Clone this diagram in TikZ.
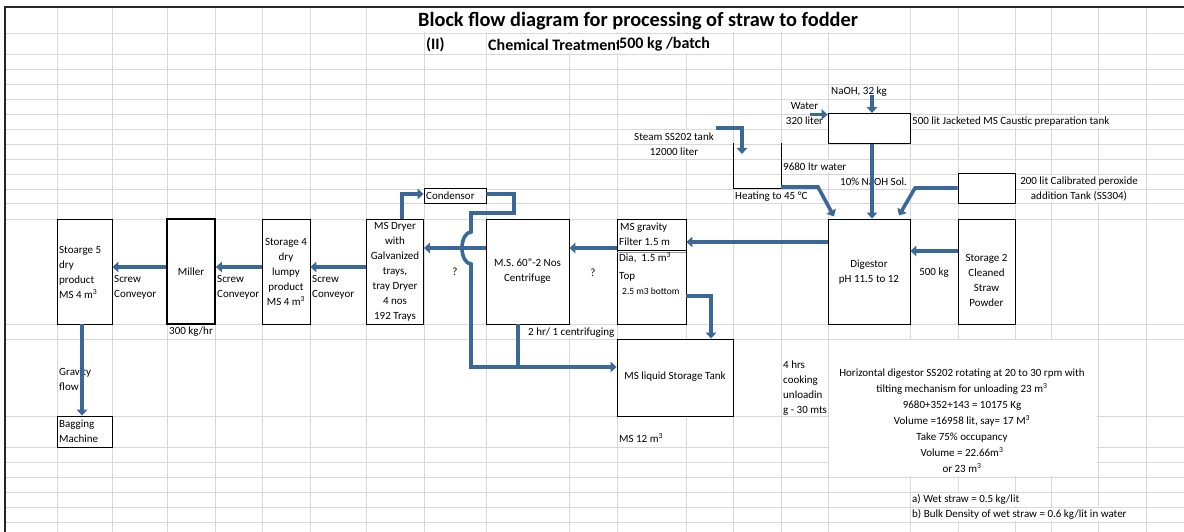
\documentclass[tikz,border=0pt]{standalone}
\usepackage{fontspec}
\setmainfont{Carlito}
\usetikzlibrary{arrows.meta}
\definecolor{arrc}{RGB}{58,104,152}
\definecolor{gridc}{RGB}{216,216,216}
\begin{document}
\begin{tikzpicture}[x=1pt,y=-1pt,
  gl/.style={draw=gridc, line width=0.9pt},
  box/.style={draw=black, fill=white, line width=0.9pt, inner sep=0pt},
  arr/.style={draw=arrc, line width=3.6pt, -{Triangle[length=6pt,width=10.5pt]}},
  pipe/.style={draw=arrc, line width=3.6pt},
  t/.style={font=\fontsize{11}{15}\selectfont, inner sep=0pt, align=center},
  tl/.style={t, anchor=west, align=left},
  ts/.style={font=\fontsize{9.5}{12}\selectfont, inner sep=0pt, anchor=west},
  hd/.style={font=\bfseries\fontsize{16}{18}\selectfont, inner sep=0pt, anchor=west},
]
\useasboundingbox (0,0) rectangle (1184,532);
% ---------- spreadsheet grid ----------
\foreach \x in {57,112,167,215,262,310,366,424,486,569,617,686,733,781,828,910,958,1015,1051,1098,1146}
  \draw[gl] (\x,7) -- (\x,532);
\foreach \y in {33,54,69,84,99,114,129,144,159,174,189,203,219,324,339,416,447,462,477,492,507,522}
  \draw[gl] (5,\y) -- (1184,\y);
% hidden grid under merged cells / overflowing text
\fill[white] (367.5,8) rectangle (909.5,32.4);
\fill[white] (487,33.6) rectangle (732.4,53.4);
\fill[white] (911,114.6) rectangle (1145.4,128.4);
\fill[white] (618,129.6) rectangle (732.4,143.4);
\fill[white] (618,144.6) rectangle (732.4,158.4);
\fill[white] (782,159.6) rectangle (850,173.4);
\fill[white] (734,189.6) rectangle (815,202.4);
\fill[white] (1016,174.6) rectangle (1145.4,188.4);
\fill[white] (1016,189.6) rectangle (1145.4,202.4);
\fill[white] (527,324.6) rectangle (616.4,338.4);
\fill[white] (828.6,339.6) rectangle (1097.4,476.4);
\fill[white] (911,492.6) rectangle (1020,506.4);
\fill[white] (911,507.6) rectangle (1145.4,521.4);
% outer border
\draw[line width=1.3pt, black!85] (5,532) -- (5,7) -- (1184,7);

% ---------- boxes ----------
\node[box, minimum width=55pt, minimum height=105pt] (st5) at (84.5,271.5) {};
\node[box, line width=1.8pt, minimum width=48pt, minimum height=105pt] (miller) at (191,271.5) {};
\node[box, minimum width=48pt, minimum height=105pt] (st4) at (286,271.5) {};
\node[box, minimum width=57pt, minimum height=105pt] (dryer) at (395,271.5) {};
\node[box, minimum width=62pt, minimum height=15pt] (cond) at (455,195.5) {};
\node[box, minimum width=83pt, minimum height=105pt] (centr) at (527.5,271.5) {};
\node[box, minimum width=69pt, minimum height=105pt] (filter) at (651.5,271.5) {};
\node[box, minimum width=116pt, minimum height=77pt] (ltank) at (675,377.5) {};
\node[box, minimum width=82pt, minimum height=30pt] (ctank) at (869,128.5) {};
\node[box, minimum width=57pt, minimum height=30pt] (ptank) at (986.5,188) {};
\node[box, minimum width=82pt, minimum height=105pt] (dig) at (869,271.5) {};
\node[box, minimum width=57pt, minimum height=105pt] (st2) at (986.5,271.5) {};
\node[box, minimum width=55pt, minimum height=31pt] (bag) at (84.5,431.5) {};
% open steam tank
\coordinate (ut1) at (733,143.5);
\coordinate (ut2) at (733,188.5);
\coordinate (ut3) at (781,188.5);
\coordinate (ut4) at (781,143.5);
\draw[line width=0.9pt] (ut1) -- (ut2) -- (ut3) -- (ut4);
% filter divider
\coordinate (fd) at (0,250.5);
\coordinate (fd2) at (0,252.6);
\draw[black!40, line width=1.2pt] (filter.west |- fd2) -- (filter.east |- fd2);
\draw[black, line width=1.8pt] (filter.west |- fd) -- (filter.east |- fd);

% ---------- texts ----------
\node[hd, font=\bfseries\fontsize{20.3}{22}\selectfont] (title) at (418,21) {Block flow diagram for processing of straw to fodder};
\node[hd] (sec) at (426,44.5) {(II)};
\begin{scope}
  \clip (487,34) rectangle (618.2,54);
  \node[hd] (chem) at (488,44.5) {Chemical Treatment};
\end{scope}
\node[hd] (batch) at (619,44.5) {500 kg /batch};

\node[tl] (st5t) at (59,272) {Stoarge 5\\dry\\product\\MS 4 m\textsuperscript{3}};
\node[tl] (sc1) at (114,287.5) {Screw\\Conveyor};
\node[t] (millt) at (191,272) {Miller};
\node[tl] (sc2) at (217,287.5) {Screw\\Conveyor};
\node[t] (st4t) at (286,272) {Storage 4\\dry\\lumpy\\product\\MS 4 m\textsuperscript{3}};
\node[tl] (sc3) at (312,287.5) {Screw\\Conveyor};
\node[tl] (kghr) at (169,332) {300 kg/hr};
\node[tl] (grav) at (59,379.5) {Gravity\\flow};
\node[tl] (bagt) at (59,431.5) {Bagging\\Machine};
\node[t] (dryt) at (395,272) {MS Dryer\\with\\Galvanized\\trays,\\tray Dryer\\4 nos\\192 Trays};
\node[tl] (condt) at (426,196) {Condensor};
\node[t] (q1) at (455,272) {?};
\node[t] (centt) at (527.5,271.5) {M.S. 60"-2 Nos\\Centrifuge};
\node[t] (q2) at (593,273) {?};
\node[tl] (cent2) at (528,332.5) {2 hr/ 1 centrifuging};
\node[tl] (f1) at (620,228) {MS gravity};
\node[tl] (f2) at (619,242) {Filter 1.5 m};
\node[tl] (f3) at (619,258) {Dia,\ \ 1.5 m\textsuperscript{3}};
\node[tl] (f4) at (619,277) {Top};
\node[ts] (f5) at (622,291) {2.5 m3 bottom};
\node[t] (ltt) at (675,377) {MS liquid Storage Tank};
\node[tl] (ms12) at (619,438.5) {MS 12 m\textsuperscript{3}};
\node[tl] (cook) at (783,388) {4 hrs\\cooking\\unloadin\\g - 30 mts};
\node[t, font=\fontsize{11}{16}\selectfont] (note) at (962,420.5) {Horizontal digestor SS202 rotating at 20 to 30 rpm with\\tilting mechanism for unloading 23 m\textsuperscript{3}\\9680+352+143 = 10175 Kg\\Volume =16958 lit, say= 17 M\textsuperscript{3}\\Take 75\% occupancy\\Volume = 22.66m\textsuperscript{3}\\or 23 m\textsuperscript{3}};
\node[tl] (wet) at (912,499.5) {a) Wet straw = 0.5 kg/lit};
\node[tl] (bulk) at (912,514.5) {b) Bulk Density of wet straw = 0.6 kg/lit in water};
\node[tl] (naoh) at (831,92) {NaOH, 32 kg};
\node[t] (water) at (804.5,113.5) {Water\\320 liter};
\node[tl] (ctl) at (912,121.5) {500 lit Jacketed MS Caustic preparation tank};
\node[t] (steam) at (674,144) {Steam SS202 tank\\12000 liter};
\node[tl] (w9680) at (783,167) {9680 ltr water};
\node[tl] (sol) at (840,182) {10\% NaOH Sol.};
\node[tl] (heat) at (735,197) {Heating to 45 °C};
\node[t] (pert) at (1079,189) {200 lit Calibrated peroxide\\addition Tank (SS304)};
\node[t] (digt) at (869,272.5) {Digestor\\pH 11.5 to 12};
\node[t] (kg500) at (934,272.5) {500 kg};
\node[t] (st2t) at (986.5,280.5) {Storage 2\\Cleaned\\Straw\\Powder};

% ---------- connectors ----------
\coordinate (hA) at (0,267);
\coordinate (hB) at (0,248);
\coordinate (hC) at (0,242);
\coordinate (hD) at (0,251);
\coordinate (vX) at (872,0);
\coordinate (gv) at (82,0);
\draw[arr] (miller.west |- hA) -- (st5.east |- hA);
\draw[arr] (st4.west |- hA) -- (miller.east |- hA);
\draw[arr] (dryer.west |- hA) -- (st4.east |- hA);
\draw[arr] (centr.west |- hB) -- (dryer.east |- hB);
\draw[arr] (filter.west |- hB) -- (centr.east |- hB);
\draw[arr] (dig.west |- hC) -- (filter.east |- hC);
\draw[arr] (st2.west |- hD) -- (dig.east |- hD);
\draw[arr] (ctank.south -| vX) -- (dig.north -| vX);
\draw[arr] (st5.south -| gv) -- (bag.north -| gv);
% NaOH and water feeds
\coordinate (naohs) at (872,95.5);
\draw[arr] (naohs) -- (ctank.north -| naohs);
\coordinate (waters) at (810,114.5);
\draw[arr] (waters) -- (ctank.west |- waters);
% steam feed into open tank
\coordinate (stm0) at (716,128);
\coordinate (stm1) at (742,128);
\coordinate (stm2) at (742,154);
\draw[arr] (stm0) -- (stm1) -- (stm2);
% heated water to digestor
\coordinate (hs1) at (818,187);
\coordinate (hs2) at (834,216.5);
\draw[arr] (ut4 |- hs1) -- (hs1) -- (hs2);
% peroxide to digestor
\coordinate (pr1) at (915,188);
\coordinate (pr2) at (899,215.5);
\draw[arr] (ptank.west |- pr1) -- (pr1) -- (pr2);
% filter bottom to liquid tank
\coordinate (fb1) at (711,296);
\draw[arr] (filter.east |- fb1) -- (fb1) -- (ltank.north -| fb1);
% dryer vapour to condensor
\coordinate (dc) at (402,194);
\draw[arr] (dryer.north -| dc) -- (dc) -- (cond.west |- dc);
% condensate return with hop, to liquid tank
\coordinate (cr1) at (514,194);
\coordinate (cr2) at (514,213);
\coordinate (cr3) at (471,213);
\coordinate (cr4) at (471,232);
\coordinate (cr5) at (471,367);
\draw[arr] (cond.east |- cr1) -- (cr1) -- (cr2) -- (cr3) -- (cr4)
  arc[start angle=270, end angle=90, x radius=9, y radius=16] -- (cr5) -- (ltank.west |- cr5);
% centrifuge liquor down to line
\coordinate (cb) at (518,367);
\draw[pipe] (centr.south -| cb) -- (cb);
\end{tikzpicture}
\end{document}
